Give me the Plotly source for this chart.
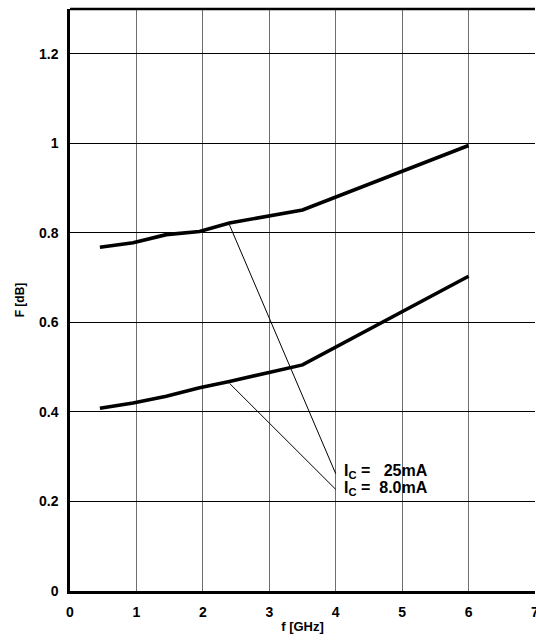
import plotly.graph_objects as go

# ---- data ----
freq_ghz = [0.45, 0.95, 1.45, 1.95, 2.4, 3.5, 6.0]
nf_25ma = [0.768, 0.778, 0.796, 0.803, 0.822, 0.851, 0.995]
nf_8ma = [0.408, 0.420, 0.435, 0.454, 0.468, 0.505, 0.703]

x_ticks = [0, 1, 2, 3, 4, 5, 6, 7]
y_ticks = [0, 0.2, 0.4, 0.6, 0.8, 1.0, 1.2]
y_tick_text = ["0", "0.2", "0.4", "0.6", "0.8", "1", "1.2"]

label_25 = "I<sub>C</sub> =&nbsp;&nbsp;&nbsp;25mA"
label_8 = "I<sub>C</sub> =&nbsp;&nbsp;8.0mA"

FONT = "Liberation Sans, Arial, sans-serif"

fig = go.Figure()
for ys in (nf_25ma, nf_8ma):
    fig.add_trace(go.Scatter(x=freq_ghz, y=ys, mode="lines",
                             line=dict(color="black", width=3.6),
                             showlegend=False, hoverinfo="skip"))

# leader lines from curve points (index 4) to label
leader_idx = 4
leader_end_x = 4.0
leader_end_y = [0.262, 0.227]
for ys, ye in zip((nf_25ma, nf_8ma), leader_end_y):
    fig.add_shape(type="line", xref="x", yref="y",
                  x0=freq_ghz[leader_idx], y0=ys[leader_idx] - 0.004,
                  x1=leader_end_x, y1=ye,
                  line=dict(color="black", width=1))

# top border
fig.add_shape(type="line", xref="paper", yref="paper", x0=0, x1=1, y0=1, y1=1,
              line=dict(color="black", width=2.5))

fig.add_annotation(x=4.1, y=0.268, xref="x", yref="y", text="<b>" + label_25 + "</b>",
                   showarrow=False, xanchor="left", yanchor="middle",
                   font=dict(family=FONT, size=16, color="black"))
fig.add_annotation(x=4.1, y=0.230, xref="x", yref="y", text="<b>" + label_8 + "</b>",
                   showarrow=False, xanchor="left", yanchor="middle",
                   font=dict(family=FONT, size=16, color="black"))

fig.update_layout(
    width=536, height=642,
    margin=dict(l=70, r=1, t=9, b=51),
    paper_bgcolor="white", plot_bgcolor="white",
    font=dict(family=FONT, size=14, color="black"),
    xaxis=dict(range=[0, 7], tickvals=x_ticks, automargin=False,
               ticktext=["<b>%d</b>" % v for v in x_ticks],
               tickfont=dict(size=14), ticklabeloverflow="allow",
               showgrid=True, gridcolor="#6e6e6e", gridwidth=1,
               showline=True, linecolor="black", linewidth=2.5,
               zeroline=False, ticks="", ticklabelstandoff=6,
               title=dict(text="<b>f [GHz]</b>", font=dict(size=13), standoff=4)),
    yaxis=dict(range=[0, 1.3], tickvals=y_ticks, automargin=False,
               ticktext=["<b>%s</b>" % t for t in y_tick_text],
               tickfont=dict(size=14),
               showgrid=True, gridcolor="black", gridwidth=1,
               showline=True, linecolor="black", linewidth=2.5,
               zeroline=False, ticks="", ticklabelstandoff=6,
               title=dict(text="<b>F [dB]</b>", font=dict(size=12), standoff=12)),
)

fig.write_html("out.html")
